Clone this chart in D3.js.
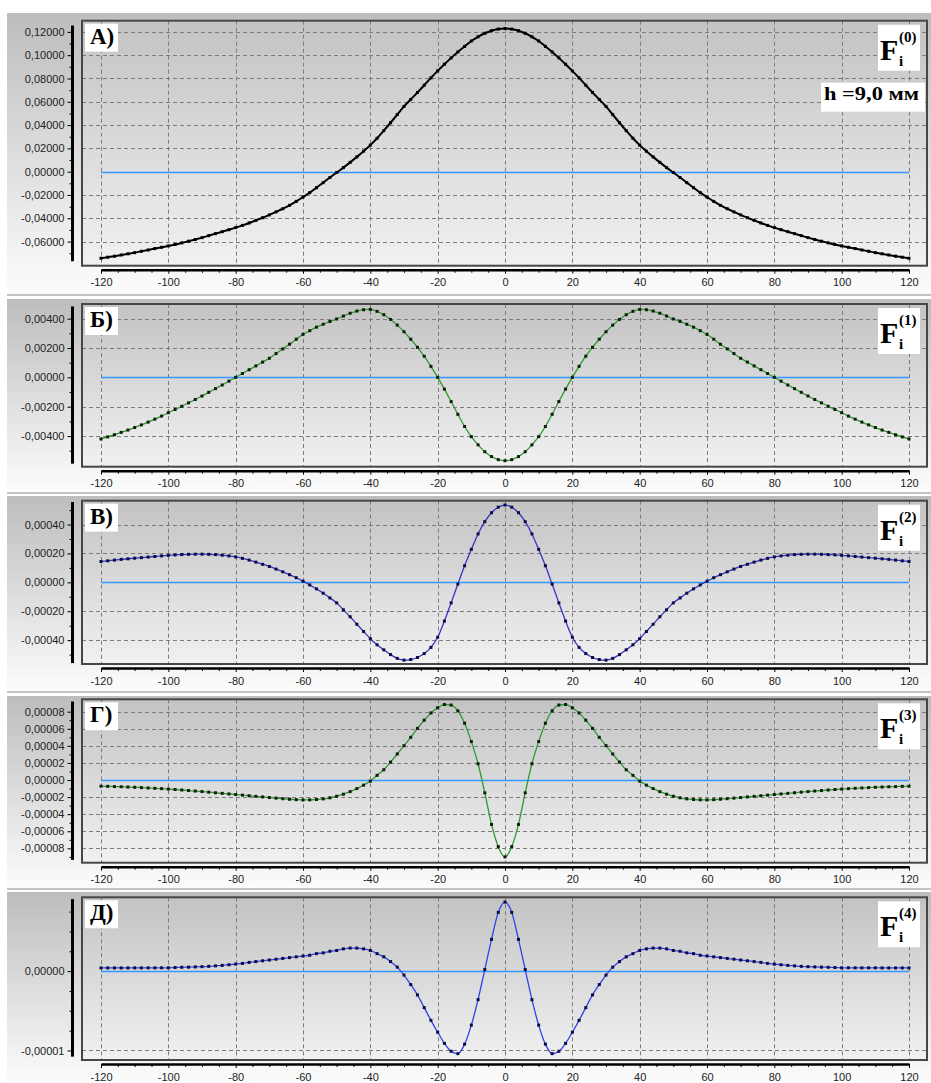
<!DOCTYPE html>
<html>
<head>
<meta charset="utf-8">
<script src="https://cdn.jsdelivr.net/npm/d3@7"></script>
<style>
  body { margin: 0; background: #fff; }
  svg { display: block; }
</style>
</head>
<body>
<svg id="chart" width="931" height="1083"></svg>
<script>
// sample positions (mm)
const xs = [-120,-118,-116,-114,-112,-110,-108,-106,-104,-102,
  -100,-98,-96,-94,-92,-90,-88,-86,-84,-82,
  -80,-78,-76,-74,-72,-70,-68,-66,-64,-62,
  -60,-58,-56,-54,-52,-50,-48,-46,-44,-42,
  -40,-38,-36,-34,-32,-30,-28,-26,-24,-22,
  -20,-18,-16,-14,-12,-10,-8,-6,-4,-2,
  0,
  2,4,6,8,10,12,14,16,18,20,
  22,24,26,28,30,32,34,36,38,40,
  42,44,46,48,50,52,54,56,58,60,
  62,64,66,68,70,72,74,76,78,80,
  82,84,86,88,90,92,94,96,98,100,
  102,104,106,108,110,112,114,116,118,120];

// F(0)
const f0 = [-0.0743,-0.0734,-0.0725,-0.0715,-0.0705,-0.0695,-0.0683,-0.0672,-0.0660,-0.0649,
  -0.0637,-0.0625,-0.0611,-0.0597,-0.0582,-0.0566,-0.0549,-0.0532,-0.0515,-0.0498,
  -0.0480,-0.0461,-0.0440,-0.0418,-0.0395,-0.0371,-0.0345,-0.0318,-0.0289,-0.0255,
  -0.0218,-0.0180,-0.0138,-0.0094,-0.0050,-0.0007,0.0035,0.0080,0.0127,0.0176,
  0.0228,0.0287,0.0352,0.0420,0.0490,0.0560,0.0620,0.0680,0.0742,0.0805,
  0.0865,0.0922,0.0977,0.1028,0.1075,0.1122,0.1158,0.1188,0.1210,0.1224,
  0.1229,
  0.1224,0.1210,0.1188,0.1158,0.1122,0.1075,0.1028,0.0977,0.0922,0.0865,
  0.0805,0.0742,0.0680,0.0620,0.0560,0.0490,0.0420,0.0352,0.0287,0.0228,
  0.0176,0.0127,0.0080,0.0035,-0.0007,-0.0050,-0.0094,-0.0138,-0.0180,-0.0218,
  -0.0255,-0.0289,-0.0318,-0.0345,-0.0371,-0.0395,-0.0418,-0.0440,-0.0461,-0.0480,
  -0.0498,-0.0515,-0.0532,-0.0549,-0.0566,-0.0582,-0.0597,-0.0611,-0.0625,-0.0637,
  -0.0649,-0.0660,-0.0672,-0.0683,-0.0695,-0.0705,-0.0715,-0.0725,-0.0734,-0.0743];

// F(1)
const f1 = [-0.00420,-0.00406,-0.00391,-0.00375,-0.00359,-0.00342,-0.00324,-0.00305,-0.00285,-0.00264,
  -0.00241,-0.00219,-0.00197,-0.00174,-0.00151,-0.00127,-0.00102,-0.00077,-0.00052,-0.00026,
  0.00000,0.00026,0.00052,0.00078,0.00104,0.00130,0.00162,0.00194,0.00226,0.00260,
  0.00293,0.00318,0.00342,0.00362,0.00381,0.00398,0.00418,0.00437,0.00452,0.00461,
  0.00463,0.00450,0.00427,0.00395,0.00356,0.00311,0.00260,0.00205,0.00144,0.00075,
  0.00000,-0.00080,-0.00165,-0.00252,-0.00335,-0.00404,-0.00460,-0.00507,-0.00540,-0.00561,
  -0.00568,
  -0.00561,-0.00540,-0.00507,-0.00460,-0.00404,-0.00335,-0.00252,-0.00165,-0.00080,0.00000,
  0.00075,0.00144,0.00205,0.00260,0.00311,0.00356,0.00395,0.00427,0.00450,0.00463,
  0.00461,0.00452,0.00437,0.00418,0.00398,0.00381,0.00362,0.00342,0.00318,0.00293,
  0.00260,0.00226,0.00194,0.00162,0.00130,0.00104,0.00078,0.00052,0.00026,0.00000,
  -0.00026,-0.00052,-0.00077,-0.00102,-0.00127,-0.00151,-0.00174,-0.00197,-0.00219,-0.00241,
  -0.00264,-0.00285,-0.00305,-0.00324,-0.00342,-0.00359,-0.00375,-0.00391,-0.00406,-0.00420];

// F(2)
const f2 = [0.000144,0.000149,0.000154,0.000159,0.000163,0.000167,0.000171,0.000175,0.000179,0.000183,
  0.000187,0.000190,0.000192,0.000194,0.000195,0.000195,0.000194,0.000192,0.000188,0.000183,
  0.000176,0.000166,0.000154,0.000140,0.000125,0.000110,0.000092,0.000073,0.000053,0.000032,
  0.000008,-0.000018,-0.000045,-0.000075,-0.000108,-0.000142,-0.000190,-0.000238,-0.000290,-0.000340,
  -0.000390,-0.000432,-0.000467,-0.000500,-0.000526,-0.000538,-0.000534,-0.000520,-0.000493,-0.000450,
  -0.000380,-0.000268,-0.000142,-0.000012,0.000115,0.000228,0.000335,0.000420,0.000482,0.000520,
  0.000535,
  0.000520,0.000482,0.000420,0.000335,0.000228,0.000115,-0.000012,-0.000142,-0.000268,-0.000380,
  -0.000450,-0.000493,-0.000520,-0.000534,-0.000538,-0.000526,-0.000500,-0.000467,-0.000432,-0.000390,
  -0.000340,-0.000290,-0.000238,-0.000190,-0.000142,-0.000108,-0.000075,-0.000045,-0.000018,0.000008,
  0.000032,0.000053,0.000073,0.000092,0.000110,0.000125,0.000140,0.000154,0.000166,0.000176,
  0.000183,0.000188,0.000192,0.000194,0.000195,0.000195,0.000194,0.000192,0.000190,0.000187,
  0.000183,0.000179,0.000175,0.000171,0.000167,0.000163,0.000159,0.000154,0.000149,0.000144];

// F(3)
const f3 = [-0.0000072,-0.0000074,-0.0000077,-0.0000079,-0.0000082,-0.0000085,-0.0000089,-0.0000093,-0.0000097,-0.0000101,
  -0.0000106,-0.0000111,-0.0000117,-0.0000123,-0.0000129,-0.0000135,-0.0000142,-0.0000149,-0.0000156,-0.0000163,
  -0.0000170,-0.0000177,-0.0000184,-0.0000191,-0.0000198,-0.0000205,-0.0000212,-0.0000219,-0.0000225,-0.0000230,
  -0.0000233,-0.0000232,-0.0000228,-0.0000221,-0.0000208,-0.0000190,-0.0000166,-0.0000136,-0.0000100,-0.0000060,
  -0.0000013,0.0000055,0.0000120,0.0000210,0.0000305,0.0000402,0.0000500,0.0000605,0.0000700,0.0000785,
  0.0000846,0.0000884,0.0000878,0.0000810,0.0000665,0.0000450,0.0000190,-0.0000150,-0.0000520,-0.0000780,
  -0.0000900,
  -0.0000780,-0.0000520,-0.0000150,0.0000190,0.0000450,0.0000665,0.0000810,0.0000878,0.0000884,0.0000846,
  0.0000785,0.0000700,0.0000605,0.0000500,0.0000402,0.0000305,0.0000210,0.0000120,0.0000055,-0.0000013,
  -0.0000060,-0.0000100,-0.0000136,-0.0000166,-0.0000190,-0.0000208,-0.0000221,-0.0000228,-0.0000232,-0.0000233,
  -0.0000230,-0.0000225,-0.0000219,-0.0000212,-0.0000205,-0.0000198,-0.0000191,-0.0000184,-0.0000177,-0.0000170,
  -0.0000163,-0.0000156,-0.0000149,-0.0000142,-0.0000135,-0.0000129,-0.0000123,-0.0000117,-0.0000111,-0.0000106,
  -0.0000101,-0.0000097,-0.0000093,-0.0000089,-0.0000085,-0.0000082,-0.0000079,-0.0000077,-0.0000074,-0.0000072];

// F(4)
const f4 = [0.00000040,0.00000040,0.00000040,0.00000040,0.00000040,0.00000041,0.00000041,0.00000041,0.00000041,0.00000042,
  0.00000042,0.00000045,0.00000048,0.00000050,0.00000053,0.00000056,0.00000060,0.00000066,0.00000072,0.00000080,
  0.00000088,0.00000097,0.0000011,0.0000012,0.0000013,0.0000014,0.0000015,0.0000016,0.0000017,0.0000018,
  0.0000019,0.0000020,0.0000022,0.0000023,0.0000025,0.0000026,0.0000028,0.0000029,0.0000029,0.0000028,
  0.0000026,0.0000022,0.0000018,0.0000012,0.0000005,-0.0000005,-0.0000017,-0.0000030,-0.0000046,-0.0000062,
  -0.0000077,-0.0000091,-0.0000101,-0.0000104,-0.0000092,-0.0000068,-0.0000036,0.0000002,0.0000040,0.0000074,
  0.0000087,
  0.0000074,0.0000040,0.0000002,-0.0000036,-0.0000068,-0.0000092,-0.0000104,-0.0000101,-0.0000091,-0.0000077,
  -0.0000062,-0.0000046,-0.0000030,-0.0000017,-0.0000005,0.0000005,0.0000012,0.0000018,0.0000022,0.0000026,
  0.0000028,0.0000029,0.0000029,0.0000028,0.0000026,0.0000025,0.0000023,0.0000022,0.0000020,0.0000019,
  0.0000018,0.0000017,0.0000016,0.0000015,0.0000014,0.0000013,0.0000012,0.0000011,0.00000097,0.00000088,
  0.00000080,0.00000072,0.00000066,0.00000060,0.00000056,0.00000053,0.00000050,0.00000048,0.00000045,0.00000042,
  0.00000042,0.00000041,0.00000041,0.00000041,0.00000041,0.00000040,0.00000040,0.00000040,0.00000040,0.00000040];

const series = [f0, f1, f2, f3, f4];
const panelLabels = ["А)", "Б)", "В)", "Г)", "Д)"];
const orderLabels = ["(0)", "(1)", "(2)", "(3)", "(4)"];
const heightLabel = "h =9,0 мм";

const xTicks = [-120, -100, -80, -60, -40, -20, 0, 20, 40, 60, 80, 100, 120];
const yTicks = [
  [0.12, 0.10, 0.08, 0.06, 0.04, 0.02, 0, -0.02, -0.04, -0.06],
  [0.004, 0.002, 0, -0.002, -0.004],
  [0.0004, 0.0002, 0, -0.0002, -0.0004],
  [0.00008, 0.00006, 0.00004, 0.00002, 0, -0.00002, -0.00004, -0.00006, -0.00008],
  [0, -0.00001]
];
const yMinorStep = [0.01, 0.001, 0.0001, 0.00001, 0.0000025];
const yDomains = [
  [-0.0807, 0.1296],
  [-0.00609, 0.0050],
  [-0.000565, 0.000565],
  [-0.0000968, 0.0000945],
  [-0.0000112, 0.0000093]
];

// layout (pixels)
const W = 931;
const plotLeft = 82, plotRight = 927, axisX = 72.5;
const layout = [
  {top: 13, plotTop: 20.7, plotBottom: 265.7, bottom: 294},
  {top: 299, plotTop: 304, plotBottom: 466.7, bottom: 492},
  {top: 496, plotTop: 500.7, plotBottom: 664, bottom: 691},
  {top: 696, plotTop: 699.3, plotBottom: 862.7, bottom: 888},
  {top: 892, plotTop: 897.3, plotBottom: 1060, bottom: 1083}
];
const lineColors = ["#000000", "#2e9a2e", "#3434c8", "#2e9a2e", "#3040f0"];
const markColors = ["#000000", "#0e1e0e", "#0c0c40", "#0e1e0e", "#0c0c40"];

const loc = d3.formatLocale({decimal: ",", thousands: " ", grouping: [3], currency: ["", ""], minus: "-"});
const yFmt = loc.format(".5f");
const xFmt = loc.format("d");

const svg = d3.select("#chart");
const defs = svg.append("defs");
const pg = defs.append("linearGradient").attr("id", "panelGrad")
  .attr("x1", 0).attr("y1", 0).attr("x2", 0).attr("y2", 1);
pg.append("stop").attr("offset", "0%").attr("stop-color", "#bdbdbd");
pg.append("stop").attr("offset", "100%").attr("stop-color", "#fcfcfc");
const ag = defs.append("linearGradient").attr("id", "plotGrad")
  .attr("x1", 0).attr("y1", 0).attr("x2", 0).attr("y2", 1);
ag.append("stop").attr("offset", "0%").attr("stop-color", "#c3c3c3");
ag.append("stop").attr("offset", "100%").attr("stop-color", "#f1f1f1");

const x = d3.scaleLinear().domain([-120, 120]).range([101, 909]);

function drawPanel(i) {
  const L = layout[i];
  const vals = series[i];
  const data = xs.map((d, j) => [d, vals[j]]);
  const y = d3.scaleLinear().domain(yDomains[i]).range([L.plotBottom, L.plotTop]);
  const g = svg.append("g");

  g.append("rect")
    .attr("x", 7).attr("y", L.top)
    .attr("width", W - 7).attr("height", L.bottom - L.top)
    .attr("fill", "url(#panelGrad)");
  g.append("line")
    .attr("x1", 7).attr("x2", W)
    .attr("y1", L.bottom + 1).attr("y2", L.bottom + 1)
    .attr("stroke", "#c2c2c2").attr("stroke-width", 2);

  g.append("rect")
    .attr("x", plotLeft).attr("y", L.plotTop)
    .attr("width", plotRight - plotLeft).attr("height", L.plotBottom - L.plotTop)
    .attr("fill", "url(#plotGrad)");

  // grid
  g.append("g").selectAll("line")
    .data(xTicks).enter().append("line")
    .attr("x1", d => Math.round(x(d)) + 0.5).attr("x2", d => Math.round(x(d)) + 0.5)
    .attr("y1", L.plotTop).attr("y2", L.plotBottom)
    .attr("stroke", "#7c7c7c").attr("stroke-dasharray", "4,3");
  g.append("g").selectAll("line")
    .data(yTicks[i].filter(d => d !== 0)).enter().append("line")
    .attr("x1", plotLeft).attr("x2", plotRight)
    .attr("y1", d => Math.round(y(d)) + 0.5).attr("y2", d => Math.round(y(d)) + 0.5)
    .attr("stroke", "#7c7c7c").attr("stroke-dasharray", "4,3");

  // zero line
  g.append("line")
    .attr("x1", x(-120)).attr("x2", x(120))
    .attr("y1", Math.round(y(0)) + 0.5).attr("y2", Math.round(y(0)) + 0.5)
    .attr("stroke", "#3399ff").attr("stroke-width", 1.3);

  // plot border
  g.append("rect")
    .attr("x", plotLeft).attr("y", L.plotTop)
    .attr("width", plotRight - plotLeft).attr("height", L.plotBottom - L.plotTop)
    .attr("fill", "none").attr("stroke", "#464646").attr("stroke-width", 2);

  // curve
  const line = d3.line().x(d => x(d[0])).y(d => y(d[1])).curve(d3.curveMonotoneX);
  g.append("path").datum(data)
    .attr("d", line)
    .attr("fill", "none")
    .attr("stroke", lineColors[i])
    .attr("stroke-width", i === 0 ? 2 : 1.3);
  g.append("g").selectAll("rect")
    .data(data).enter().append("rect")
    .attr("x", d => x(d[0]) - 1.5).attr("y", d => y(d[1]) - 1.5)
    .attr("width", 3).attr("height", 3)
    .attr("fill", markColors[i]);

  // left axis
  const ext = d3.extent(vals);
  const yAxis = d3.axisLeft(y).tickValues(yTicks[i]).tickSize(5).tickPadding(3).tickFormat(yFmt);
  const ya = g.append("g").attr("transform", `translate(${axisX},0)`).call(yAxis);
  ya.select(".domain").remove();
  const step = yMinorStep[i];
  const minor = d3.range(Math.ceil((ext[0]) / step), Math.floor(ext[1] / step) + 1)
    .map(k => k * step)
    .filter(v => !yTicks[i].some(t => Math.abs(t - v) < step / 10));
  const ym = g.append("g").attr("transform", `translate(${axisX},0)`)
    .call(d3.axisLeft(y).tickValues(minor).tickSize(3).tickFormat(""));
  ym.select(".domain").remove();
  g.append("line")
    .attr("x1", axisX).attr("x2", axisX)
    .attr("y1", y(ext[1]) - 3).attr("y2", y(ext[0]) + 3)
    .attr("stroke", "#000").attr("stroke-width", 3);

  // bottom axis
  const axisY = L.plotBottom + 4;
  const xa = g.append("g").attr("transform", `translate(0,${axisY})`)
    .call(d3.axisBottom(x).tickValues(xTicks).tickSize(4).tickSizeOuter(0).tickPadding(5).tickFormat(xFmt));
  xa.select(".domain").attr("stroke", "#000").attr("stroke-width", 2.5);
  const xm = g.append("g").attr("transform", `translate(0,${axisY})`)
    .call(d3.axisBottom(x).tickValues(d3.range(-115, 120, 5).filter(v => v % 20 !== 0)).tickSize(3).tickFormat(""));
  xm.select(".domain").remove();

  [ya, ym, xa, xm].forEach(a => {
    a.selectAll(".tick line").attr("stroke", "#000");
    a.selectAll("text")
      .attr("fill", "#222")
      .style("font-family", "'Liberation Sans', Arial, sans-serif")
      .style("font-size", "11px");
  });

  // panel letter
  g.append("rect")
    .attr("x", plotLeft + 3).attr("y", L.plotTop + 3)
    .attr("width", 33).attr("height", 28).attr("fill", "#fff");
  g.append("text")
    .attr("x", plotLeft + 8).attr("y", L.plotTop + 23)
    .style("font-family", "'Liberation Serif', 'Times New Roman', serif")
    .style("font-weight", "bold").style("font-size", "23px")
    .text(panelLabels[i]);

  // F label
  g.append("rect")
    .attr("x", 878).attr("y", L.plotTop + 4)
    .attr("width", 42).attr("height", 46).attr("fill", "#fff");
  const ft = g.append("g")
    .style("font-family", "'Liberation Serif', 'Times New Roman', serif")
    .style("font-weight", "bold");
  ft.append("text").attr("x", 880).attr("y", L.plotTop + 39)
    .style("font-size", "30px").text("F");
  ft.append("text").attr("x", 899).attr("y", L.plotTop + 21)
    .style("font-size", "15px").text(orderLabels[i]);
  ft.append("text").attr("x", 899).attr("y", L.plotTop + 45)
    .style("font-size", "15px").text("i");

  if (i === 0) {
    g.append("rect")
      .attr("x", 821).attr("y", L.plotTop + 62)
      .attr("width", 104).attr("height", 29).attr("fill", "#fff");
    g.append("text")
      .attr("x", 824).attr("y", L.plotTop + 79)
      .attr("textLength", 95).attr("lengthAdjust", "spacingAndGlyphs")
      .style("font-family", "'Liberation Serif', 'Times New Roman', serif")
      .style("font-weight", "bold").style("font-size", "18px")
      .text(heightLabel);
  }
}

for (let i = 0; i < series.length; i++) drawPanel(i);
</script>
</body>
</html>
